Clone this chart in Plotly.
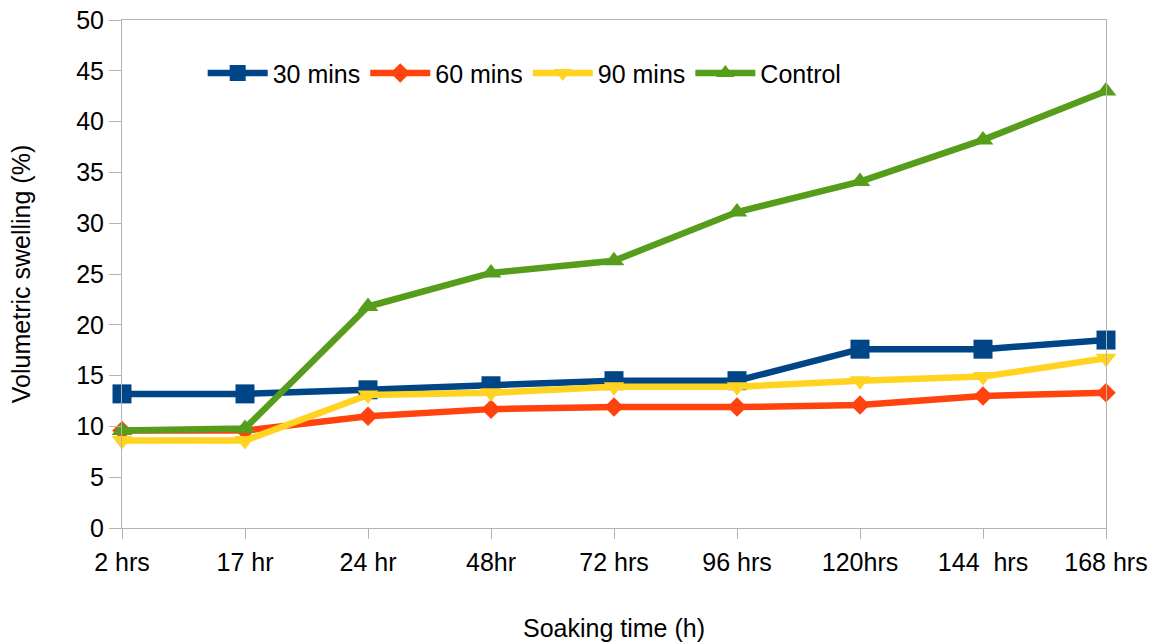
import plotly.graph_objects as go

# Soaking time categories
times = ["2 hrs", "17 hr", "24 hr", "48hr", "72 hrs", "96 hrs", "120hrs", "144  hrs", "168 hrs"]

# Volumetric swelling (%) per treatment
swell_30 = [13.2, 13.2, 13.6, 14.0, 14.5, 14.5, 17.6, 17.6, 18.5]
swell_60 = [9.6, 9.6, 11.0, 11.7, 11.9, 11.9, 12.1, 13.0, 13.3]
swell_90 = [8.6, 8.6, 13.1, 13.3, 13.9, 13.9, 14.5, 14.9, 16.7]
swell_ctrl = [9.6, 9.8, 21.8, 25.1, 26.3, 31.1, 34.1, 38.2, 43.0]

series = [
    ("30 mins", swell_30, "#004586", "square", 19),
    ("60 mins", swell_60, "#ff420e", "diamond", 15),
    ("90 mins", swell_90, "#ffd320", "triangle-down", 18),
    ("Control", swell_ctrl, "#579d1c", "triangle-up", 18),
]

fig = go.Figure()
for name, vals, color, symbol, size in series:
    fig.add_trace(go.Scatter(
        x=times, y=vals, name=name, mode="lines+markers",
        line=dict(color=color, width=6.5),
        marker=dict(color=color, symbol=symbol, size=size, line=dict(width=0)),
        cliponaxis=False,
    ))

font_family = "Liberation Sans, Arial, sans-serif"
fig.update_layout(
    width=1151, height=643,
    margin=dict(l=122, r=45, t=20, b=115),
    paper_bgcolor="white", plot_bgcolor="white",
    font=dict(family=font_family, size=25, color="black"),
    showlegend=True,
    legend=dict(
        orientation="h", x=0.082, y=0.895, xanchor="left", yanchor="middle",
        bgcolor="rgba(0,0,0,0)", font=dict(size=25),
        itemwidth=60, tracegroupgap=0,
    ),
    xaxis=dict(
        type="category", range=[0, 8], automargin=False,
        showgrid=False, showline=True, mirror=True,
        linecolor="#b3b3b3", linewidth=1,
        ticks="outside", ticklen=10, tickcolor="#b3b3b3",
        ticklabelstandoff=2,
        tickfont=dict(size=25),
        title=dict(text="Soaking time (h)", font=dict(size=25), standoff=44),
    ),
    yaxis=dict(
        range=[0, 50], dtick=5, automargin=False,
        showgrid=False, zeroline=False, showline=True, mirror=True,
        linecolor="#b3b3b3", linewidth=1,
        ticks="outside", ticklen=12, tickcolor="#b3b3b3",
        tickfont=dict(size=25),
        title=dict(text="Volumetric swelling (%)", font=dict(size=25), standoff=38),
    ),
)

fig.write_html("out.html")
